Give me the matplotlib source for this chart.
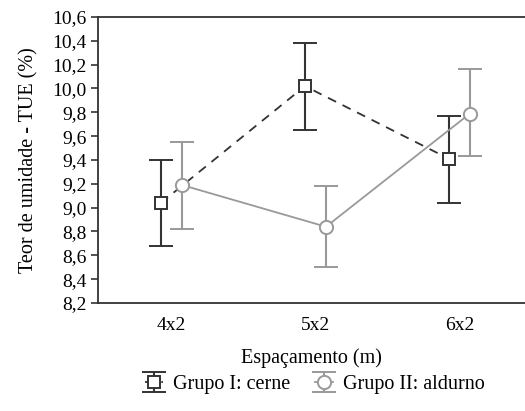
import matplotlib
matplotlib.use("Agg")
import matplotlib.pyplot as plt
import numpy as np

categories = ["4x2", "5x2", "6x2"]
g1_mean = [9.04, 10.02, 9.41]
g1_upper = [9.40, 10.38, 9.77]
g1_lower = [8.68, 9.65, 9.04]
g2_mean = [9.19, 8.84, 9.79]
g2_upper = [9.55, 9.18, 10.16]
g2_lower = [8.82, 8.50, 9.43]
yticks = [8.2, 8.4, 8.6, 8.8, 9.0, 9.2, 9.4, 9.6, 9.8, 10.0, 10.2, 10.4, 10.6]

plt.rcParams['font.family'] = ['Liberation Serif', 'DejaVu Serif']
fig = plt.figure(figsize=(5.25, 4.11), dpi=100)
ax = fig.add_axes([98/525, 1-303/411, 1-98/525, (303-17)/411])

x = np.arange(len(categories))
off = 0.073
c1 = "#333333"
c2 = "#999999"

g1m = np.array(g1_mean)
g2m = np.array(g2_mean)
err1 = [g1m - np.array(g1_lower), np.array(g1_upper) - g1m]
err2 = [g2m - np.array(g2_lower), np.array(g2_upper) - g2m]

ax.errorbar(x - off, g1m, yerr=err1, color=c1, ecolor=c1, linestyle=(0, (5, 4)), lw=1.3,
            marker='s', ms=8.5, mfc='white', mec=c1, mew=1.4, capsize=8.5, elinewidth=1.5,
            capthick=1.5, label="Grupo I: cerne", zorder=3)
ax.errorbar(x + off, g2m, yerr=err2, color=c2, ecolor=c2, linestyle='-', lw=1.3,
            marker='o', ms=9.5, mfc='white', mec=c2, mew=1.4, capsize=8.5, elinewidth=1.5,
            capthick=1.5, label="Grupo II: aldurno", zorder=3)

fs = 14
ax.set_xlim(-0.51, 2.455)
ax.set_ylim(8.2, 10.6)
ax.set_xticks(x)
ax.set_xticklabels(categories, fontsize=fs)
ax.set_yticks(yticks)
ax.set_yticklabels([f"{v:.1f}".replace('.', ',') for v in yticks], fontsize=fs)
ax.tick_params(axis='x', length=0, pad=10)
ax.tick_params(axis='y', length=5, width=1.2, color='#333333', direction='out', pad=3)
for s in ['left', 'bottom', 'top']:
    ax.spines[s].set_color('#333333')
    ax.spines[s].set_linewidth(1.3)
ax.spines['right'].set_visible(False)

ax.set_xlabel("Espaçamento (m)", fontsize=14.5, labelpad=10)
ax.set_ylabel("Teor de umidade - TUE (%)", fontsize=14.5, labelpad=10)

fig.legend(loc='lower center', bbox_to_anchor=(0.6, -0.003), ncol=2, frameon=False,
           prop={'family': 'Liberation Serif', 'size': 14.5}, handlelength=0.9,
           handletextpad=0.5, columnspacing=1.2)

fig.savefig("out.png", dpi=100)
